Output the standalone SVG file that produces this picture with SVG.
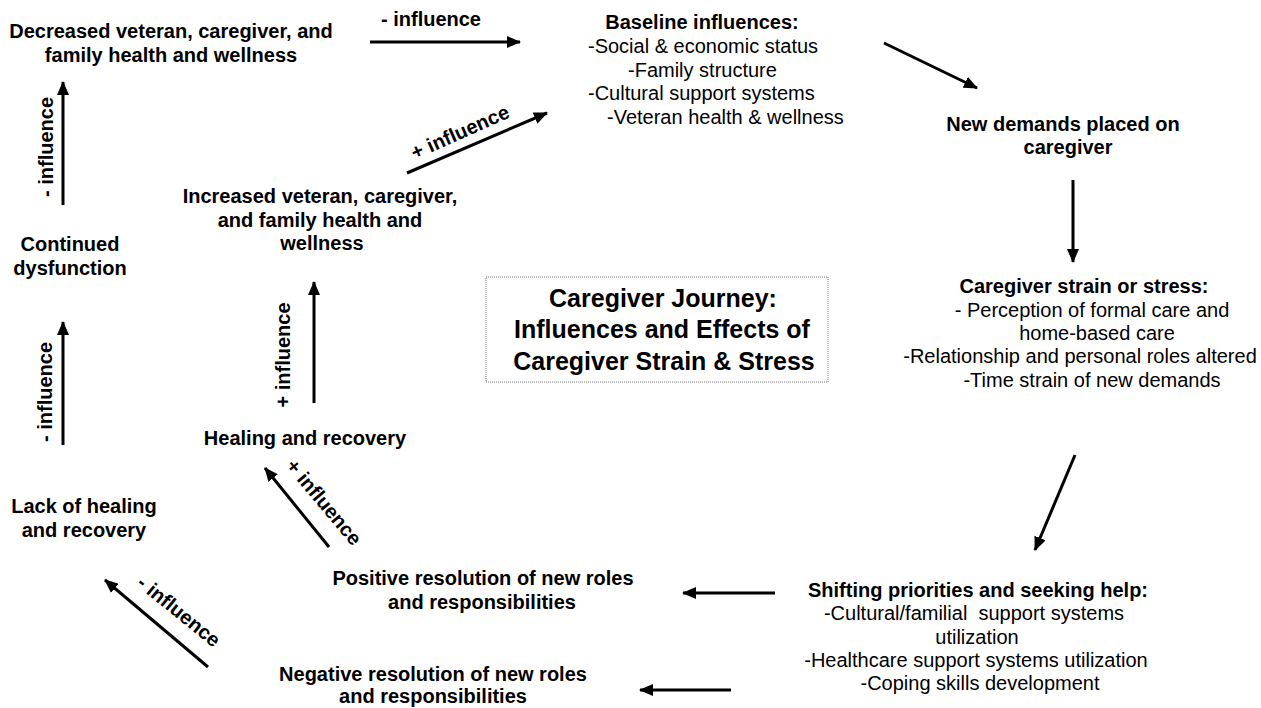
<svg xmlns="http://www.w3.org/2000/svg" width="1261" height="708" viewBox="0 0 1261 708">
<style>
text{font-family:"Liberation Sans",Arial,sans-serif;font-size:20px;fill:#000}
.b{font-weight:bold}
.c{text-anchor:middle}
.t{font-size:25px;font-weight:bold;text-anchor:middle}
.lbl{font-weight:bold;text-anchor:middle}
.arr{stroke:#000;stroke-width:3;fill:none;marker-end:url(#ah)}
</style>
<defs>
<marker id="ah" viewBox="0 0 14 12" refX="13" refY="6" markerWidth="14" markerHeight="12" markerUnits="userSpaceOnUse" orient="auto">
<path d="M0,0 L14,6 L0,12 Z" fill="#000"/>
</marker>
</defs>
<rect width="1261" height="708" fill="#fff"/>

<g id="decreased">
<text class="b c" x="171" y="38">Decreased veteran, caregiver, and</text>
<text class="b c" x="171" y="62">family health and wellness</text>
</g>
<g id="baseline">
<text class="b c" x="702" y="29">Baseline influences:</text>
<text x="588" y="53">-Social &amp; economic status</text>
<text x="628" y="77">-Family structure</text>
<text x="588" y="100">-Cultural support systems</text>
<text x="607" y="124">-Veteran health &amp; wellness</text>
</g>
<g id="new-demands">
<text class="b c" x="1063" y="131">New demands placed on</text>
<text class="b c" x="1068" y="154">caregiver</text>
</g>
<g id="strain">
<text class="b c" x="1084" y="293">Caregiver strain or stress:</text>
<text class="c" x="1092" y="317">- Perception of formal care and</text>
<text class="c" x="1097" y="340">home-based care</text>
<text class="c" x="1080" y="363">-Relationship and personal roles altered</text>
<text class="c" x="1092" y="387">-Time strain of new demands</text>
</g>
<g id="shifting">
<text class="b c" x="978" y="597">Shifting priorities and seeking help:</text>
<text class="c" x="974" y="620">-Cultural/familial&#160; support systems</text>
<text class="c" x="977" y="644">utilization</text>
<text class="c" x="976" y="667">-Healthcare support systems utilization</text>
<text class="c" x="980" y="690">-Coping skills development</text>
</g>
<g id="positive">
<text class="b c" x="483" y="585">Positive resolution of new roles</text>
<text class="b c" x="482" y="609">and responsibilities</text>
</g>
<g id="negative">
<text class="b c" x="433" y="681">Negative resolution of new roles</text>
<text class="b c" x="433" y="703">and responsibilities</text>
</g>
<g id="lack">
<text class="b c" x="84" y="513">Lack of healing</text>
<text class="b c" x="84" y="537">and recovery</text>
</g>
<g id="continued">
<text class="b c" x="70" y="251">Continued</text>
<text class="b c" x="70" y="275">dysfunction</text>
</g>
<g id="increased">
<text class="b c" x="320" y="203">Increased veteran, caregiver,</text>
<text class="b c" x="320" y="227">and family health and</text>
<text class="b c" x="322" y="250">wellness</text>
</g>
<g id="healing">
<text class="b c" x="305" y="445">Healing and recovery</text>
</g>
<g id="title">
<rect x="486" y="277" width="342" height="105" fill="#fff" stroke="#777" stroke-width="1" stroke-dasharray="1,1"/>
<text class="t" x="663" y="307">Caregiver Journey:</text>
<text class="t" x="662" y="338">Influences and Effects of</text>
<text class="t" x="664" y="370">Caregiver Strain &amp; Stress</text>
</g>

<g id="connectors">
<line class="arr" x1="370" y1="42" x2="520" y2="42"/>
<line class="arr" x1="884" y1="43" x2="977" y2="88"/>
<line class="arr" x1="1073" y1="180" x2="1073" y2="262"/>
<line class="arr" x1="1075" y1="455" x2="1035" y2="550"/>
<line class="arr" x1="775" y1="593" x2="683" y2="593"/>
<line class="arr" x1="731" y1="690" x2="640" y2="690"/>
<line class="arr" x1="208" y1="667" x2="105" y2="580"/>
<line class="arr" x1="63" y1="445" x2="63" y2="322"/>
<line class="arr" x1="63" y1="205" x2="63" y2="82"/>
<line class="arr" x1="407" y1="173" x2="547" y2="113"/>
<line class="arr" x1="314" y1="403" x2="314" y2="282"/>
<line class="arr" x1="329" y1="547" x2="265" y2="468"/>
<text class="lbl" x="431" y="26">- influence</text>
<text class="lbl" transform="translate(460,132) rotate(-24)" x="0" y="7">+ influence</text>
<text class="lbl" transform="translate(283,355) rotate(-90)" x="0" y="7">+ influence</text>
<text class="lbl" transform="translate(45,392) rotate(-90)" x="0" y="7">- influence</text>
<text class="lbl" transform="translate(46,147) rotate(-90)" x="0" y="7">- influence</text>
<text class="lbl" transform="translate(324,502) rotate(50)" x="0" y="7">+ influence</text>
<text class="lbl" transform="translate(179,611) rotate(39)" x="0" y="7">- influence</text>
</g>
</svg>
